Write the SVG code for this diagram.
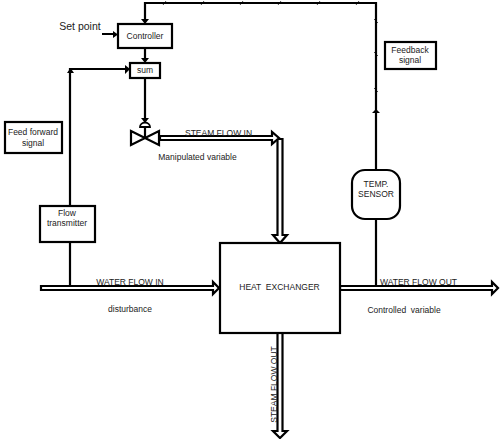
<svg xmlns="http://www.w3.org/2000/svg" width="500" height="439" viewBox="0 0 500 439">
<style>
text{font-family:"Liberation Sans",Arial,sans-serif;font-size:8.500px;fill:#222;text-anchor:middle}
.box{fill:#fff;stroke:#000;stroke-width:2.200}
.line{fill:none;stroke:#000;stroke-width:2.200}
.tick{fill:none;stroke:#000;stroke-width:.7}
.pipe{fill:#fff;stroke:#000;stroke-width:2.200;stroke-linejoin:miter}
.head{fill:#000}
</style>
<g id="connectors">
<path class="line" d="M376 170V3H145V20"/>
<path class="tick" d="M163 5L166 1M201 5L204 1M240 5L243 1M278 5L281 1M317 5L320 1M356 5L359 1M374 19L378 23M374 52L378 56M374 88L378 92"/>
<path class="line" d="M145 48V60M145 78V120M102 34H115M70 286V69H127M376 219V287"/>
<path class="head" d="M141 19H149L145 24ZM141 58H149L145 63ZM372 113H380L376 109ZM113 31L118 34.500L113 38ZM125 65L130 69L125 74ZM67 73L70.500 68L74 73Z"/>
<path class="pipe" d="M41 286H213V282L219 288L213 294V290H41Z"/>
<path class="pipe" d="M340 286H492V282L498 288L492 294V290H340Z"/>
<path class="pipe" d="M277.500 139H282.500V235H287L280 243L273 235H277.500Z"/>
<path class="pipe" d="M160 136H272V132L279 138L272 144V140H160Z"/>
<path class="pipe" d="M277.500 333H282.500V431H287L280 438L273 431H277.500Z"/>
</g>
<g id="controller"><rect class="box" x="118" y="24" width="54" height="24"/><text x="145" y="39">Controller</text></g>
<g id="sum"><rect class="box" x="130" y="63" width="30" height="15"/><text x="145" y="73">sum</text></g>
<g id="valve">
<path class="line" d="M131 131L159 145V131L131 145Z" stroke-linejoin="miter"/>
<path class="line" d="M145 138V127"/>
<path d="M140 127A5 4.500 0 0 1 150 127Z" fill="#fff" stroke="#000" stroke-width="1.800"/>
<path class="head" d="M141 118H149L145 123Z"/>
</g>
<g id="feedforward"><rect class="box" x="5" y="122" width="57" height="31"/><text x="33" y="135">Feed forward</text><text x="33" y="146">signal</text></g>
<g id="feedback"><rect class="box" x="385" y="42" width="51" height="27"/><text x="410" y="53">Feedback</text><text x="410" y="63">signal</text></g>
<g id="flow-transmitter"><rect class="box" x="40" y="206" width="55" height="36"/><text x="67" y="216">Flow</text><text x="67" y="226">transmitter</text></g>
<g id="temp-sensor"><rect class="box" x="352" y="170" width="48" height="49" rx="13"/><text x="376" y="187">TEMP.</text><text x="376" y="197">SENSOR</text></g>
<g id="heat-exchanger"><rect class="box" x="220" y="243" width="120" height="90"/><text x="279.500" y="290" xml:space="preserve">HEAT  EXCHANGER</text></g>
<g id="labels">
<text x="80" y="30" style="font-size:10.500px">Set point</text>
<text x="218.500" y="136">STEAM FLOW IN</text>
<text x="197.500" y="160">Manipulated variable</text>
<text x="130" y="285">WATER FLOW IN</text>
<text x="130" y="312">disturbance</text>
<text x="418.500" y="285">WATER FLOW OUT</text>
<text x="404" y="313" xml:space="preserve">Controlled  variable</text>
<text transform="translate(277 384.500) rotate(-90)">STEAM FLOW OUT</text>
</g>
</svg>
